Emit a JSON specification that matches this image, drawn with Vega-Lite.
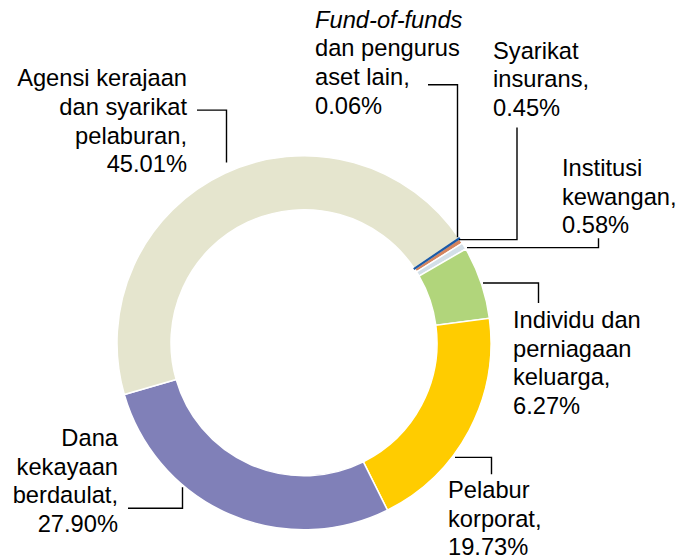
{
  "$schema": "https://vega.github.io/schema/vega-lite/v6.json",
  "width": 680,
  "height": 560,
  "padding": 0,
  "autosize": {"type": "fit", "contains": "padding"},
  "background": "#ffffff",
  "config": {"view": {"stroke": null}},
  "datasets": {
    "shares": [
      {"idx": 1, "name": "Fund-of-funds dan pengurus aset lain", "v": 0.06},
      {"idx": 2, "name": "Syarikat insurans", "v": 0.45},
      {"idx": 3, "name": "Institusi kewangan", "v": 0.58},
      {"idx": 4, "name": "Individu dan perniagaan keluarga", "v": 6.27},
      {"idx": 5, "name": "Pelabur korporat", "v": 19.73},
      {"idx": 6, "name": "Dana kekayaan berdaulat", "v": 27.90},
      {"idx": 7, "name": "Agensi kerajaan dan syarikat pelaburan", "v": 45.01}
    ],
    "labelsRight": [
      {"x": 187, "y": 86.7, "t": "Agensi kerajaan\ndan syarikat\npelaburan,\n45.01%"},
      {"x": 118, "y": 447.7, "t": "Dana\nkekayaan\nberdaulat,\n27.90%"}
    ],
    "labelsLeft": [
      {"x": 315, "y": 56.7, "t": "dan pengurus\naset lain,\n0.06%"},
      {"x": 493, "y": 59, "t": "Syarikat\ninsurans,\n0.45%"},
      {"x": 562, "y": 176.7, "t": "Institusi\nkewangan,\n0.58%"},
      {"x": 513, "y": 329.3, "t": "Individu dan\nperniagaan\nkeluarga,\n6.27%"},
      {"x": 448, "y": 500, "t": "Pelabur\nkorporat,\n19.73%"}
    ],
    "labelsItalic": [
      {"x": 315, "y": 28.3, "t": "Fund-of-funds"}
    ],
    "leaders": [
      {"g": "A", "o": 1, "x": 197, "y": 110.5},
      {"g": "A", "o": 2, "x": 226.5, "y": 110.5},
      {"g": "A", "o": 3, "x": 226.5, "y": 163},
      {"g": "F", "o": 1, "x": 428, "y": 85},
      {"g": "F", "o": 2, "x": 457.5, "y": 85},
      {"g": "F", "o": 3, "x": 457.5, "y": 238},
      {"g": "S", "o": 1, "x": 517, "y": 128},
      {"g": "S", "o": 2, "x": 517, "y": 240.5},
      {"g": "S", "o": 3, "x": 459, "y": 240.5},
      {"g": "I", "o": 1, "x": 598.5, "y": 239},
      {"g": "I", "o": 2, "x": 598.5, "y": 248.5},
      {"g": "I", "o": 3, "x": 467, "y": 248.5},
      {"g": "D", "o": 1, "x": 483, "y": 284},
      {"g": "D", "o": 2, "x": 538.5, "y": 284},
      {"g": "D", "o": 3, "x": 538.5, "y": 304},
      {"g": "P", "o": 1, "x": 455, "y": 459},
      {"g": "P", "o": 2, "x": 491.5, "y": 459},
      {"g": "P", "o": 3, "x": 491.5, "y": 476},
      {"g": "K", "o": 1, "x": 128, "y": 510},
      {"g": "K", "o": 2, "x": 182.5, "y": 510},
      {"g": "K", "o": 3, "x": 182.5, "y": 489}
    ]
  },
  "layer": [
    {
      "data": {"name": "shares"},
      "mark": {"type": "arc", "outerRadius": 187, "innerRadius": 133, "strokeWidth": 1.5, "stroke": "#ffffff"},
      "encoding": {
        "x": {"datum": 304, "type": "quantitative", "scale": {"domain": [0, 680], "nice": false, "zero": false}, "axis": null},
        "y": {"datum": 344, "type": "quantitative", "scale": {"domain": [0, 560], "nice": false, "zero": false, "reverse": true}, "axis": null},
        "theta": {"field": "v", "type": "quantitative", "stack": true, "scale": {"range": [0.977, 7.2602]}},
        "order": {"field": "idx", "type": "quantitative"},
        "color": {
          "field": "name", "type": "nominal", "legend": null,
          "scale": {
            "domain": ["Fund-of-funds dan pengurus aset lain", "Syarikat insurans", "Institusi kewangan", "Individu dan perniagaan keluarga", "Pelabur korporat", "Dana kekayaan berdaulat", "Agensi kerajaan dan syarikat pelaburan"],
            "range": ["#1c5aa6", "#d5845e", "#d3dfe8", "#b1d57b", "#ffcc00", "#8080b8", "#e5e5ce"]
          }
        }
      }
    },
    {
      "data": {"name": "shares"},
      "mark": {"type": "arc", "outerRadius": 187, "innerRadius": 133, "strokeWidth": 1.6},
      "encoding": {
        "x": {"datum": 304, "type": "quantitative", "scale": {"domain": [0, 680], "nice": false, "zero": false}, "axis": null},
        "y": {"datum": 344, "type": "quantitative", "scale": {"domain": [0, 560], "nice": false, "zero": false, "reverse": true}, "axis": null},
        "theta": {"field": "v", "type": "quantitative", "stack": true, "scale": {"range": [0.977, 7.2602]}},
        "order": {"field": "idx", "type": "quantitative"},
        "fill": {
          "field": "name", "type": "nominal", "legend": null,
          "scale": {
            "domain": ["Fund-of-funds dan pengurus aset lain", "Syarikat insurans", "Institusi kewangan", "Individu dan perniagaan keluarga", "Pelabur korporat", "Dana kekayaan berdaulat", "Agensi kerajaan dan syarikat pelaburan"],
            "range": ["#1c5aa6", "transparent", "transparent", "transparent", "transparent", "transparent", "transparent"]
          }
        },
        "stroke": {
          "field": "name", "type": "nominal", "legend": null,
          "scale": {
            "domain": ["Fund-of-funds dan pengurus aset lain", "Syarikat insurans", "Institusi kewangan", "Individu dan perniagaan keluarga", "Pelabur korporat", "Dana kekayaan berdaulat", "Agensi kerajaan dan syarikat pelaburan"],
            "range": ["#1c5aa6", "transparent", "transparent", "transparent", "transparent", "transparent", "transparent"]
          }
        }
      }
    },
    {
      "data": {"name": "leaders"},
      "mark": {"type": "line", "color": "#000000", "strokeWidth": 1.4, "interpolate": "linear"},
      "encoding": {
        "x": {"field": "x", "type": "quantitative", "scale": {"domain": [0, 680], "nice": false, "zero": false}, "axis": null},
        "y": {"field": "y", "type": "quantitative", "scale": {"domain": [0, 560], "nice": false, "zero": false, "reverse": true}, "axis": null},
        "detail": {"field": "g", "type": "nominal"},
        "order": {"field": "o", "type": "quantitative"}
      }
    },
    {
      "data": {"name": "labelsRight"},
      "mark": {"type": "text", "align": "right", "baseline": "alphabetic", "font": "Liberation Sans", "fontSize": 23.7, "lineHeight": 28.6, "lineBreak": "\n", "color": "#000000"},
      "encoding": {
        "x": {"field": "x", "type": "quantitative", "scale": {"domain": [0, 680], "nice": false, "zero": false}, "axis": null},
        "y": {"field": "y", "type": "quantitative", "scale": {"domain": [0, 560], "nice": false, "zero": false, "reverse": true}, "axis": null},
        "text": {"field": "t", "type": "nominal"}
      }
    },
    {
      "data": {"name": "labelsLeft"},
      "mark": {"type": "text", "align": "left", "baseline": "alphabetic", "font": "Liberation Sans", "fontSize": 23.7, "lineHeight": 28.6, "lineBreak": "\n", "color": "#000000"},
      "encoding": {
        "x": {"field": "x", "type": "quantitative", "scale": {"domain": [0, 680], "nice": false, "zero": false}, "axis": null},
        "y": {"field": "y", "type": "quantitative", "scale": {"domain": [0, 560], "nice": false, "zero": false, "reverse": true}, "axis": null},
        "text": {"field": "t", "type": "nominal"}
      }
    },
    {
      "data": {"name": "labelsItalic"},
      "mark": {"type": "text", "align": "left", "baseline": "alphabetic", "font": "Liberation Sans", "fontStyle": "italic", "fontSize": 23.7, "color": "#000000"},
      "encoding": {
        "x": {"field": "x", "type": "quantitative", "scale": {"domain": [0, 680], "nice": false, "zero": false}, "axis": null},
        "y": {"field": "y", "type": "quantitative", "scale": {"domain": [0, 560], "nice": false, "zero": false, "reverse": true}, "axis": null},
        "text": {"field": "t", "type": "nominal"}
      }
    }
  ]
}
